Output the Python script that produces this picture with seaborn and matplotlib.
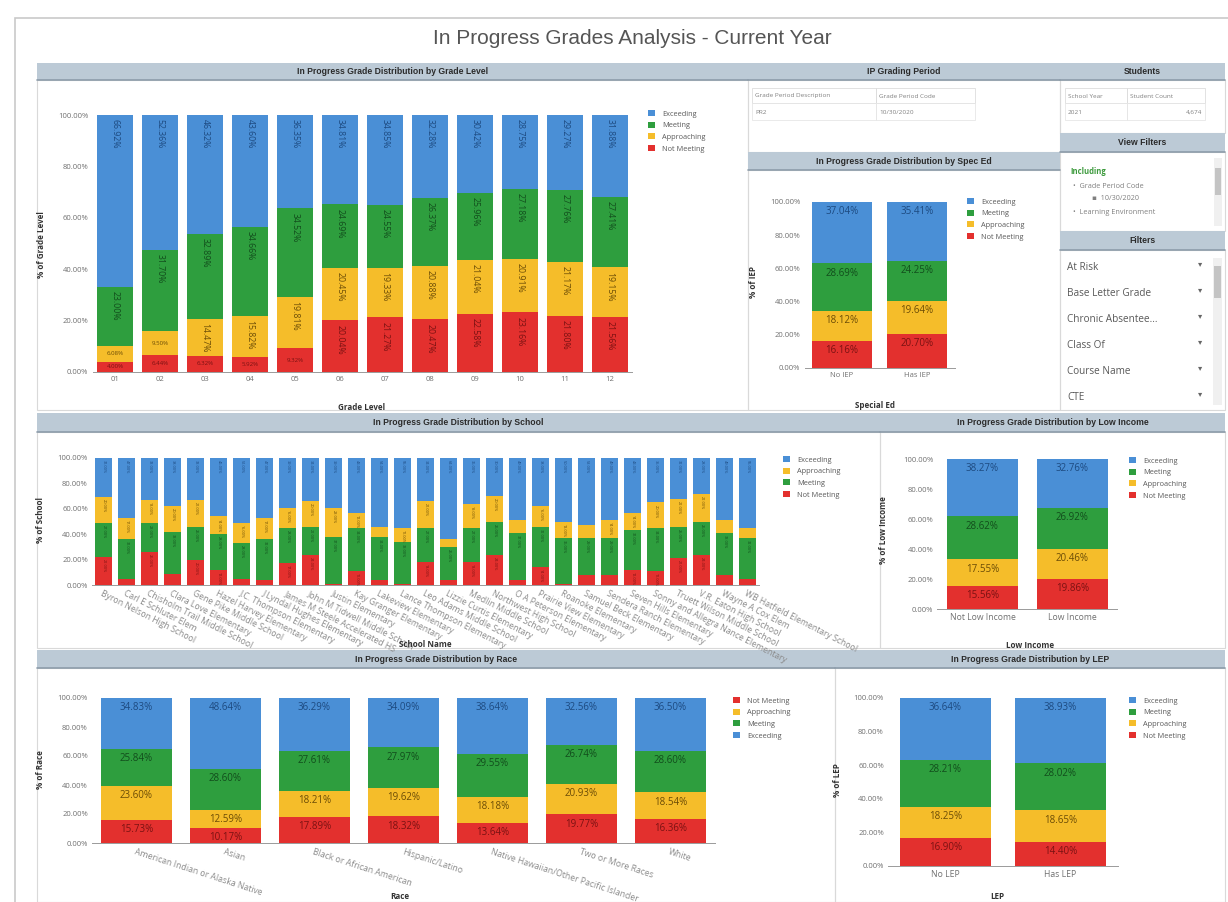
import matplotlib
matplotlib.use('Agg')
import matplotlib.pyplot as plt
from matplotlib.patches import Rectangle, Patch
from matplotlib.ticker import FuncFormatter
import seaborn as sns
import pandas as pd

W, H = 1228, 902

# ---- data -------------------------------------------------------------
LEVELS = ['Exceeding', 'Meeting', 'Approaching', 'Not Meeting']

grade_levels = ['01', '02', '03', '04', '05', '06', '07', '08', '09', '10', '11', '12']
grade_exceeding = [66.92, 52.36, 46.32, 43.60, 36.35, 34.81, 34.85, 32.28, 30.42, 28.75, 29.27, 31.88]
grade_meeting = [23.00, 31.70, 32.89, 34.66, 34.52, 24.69, 24.55, 26.37, 25.96, 27.18, 27.76, 27.41]
grade_approaching = [6.08, 9.50, 14.47, 15.82, 19.81, 20.45, 19.33, 20.88, 21.04, 20.91, 21.17, 19.15]
grade_not_meeting = [4.00, 6.44, 6.32, 5.92, 9.32, 20.04, 21.27, 20.47, 22.58, 23.16, 21.80, 21.56]

iep_groups = ['No IEP', 'Has IEP']
iep_exceeding = [37.04, 35.41]
iep_meeting = [28.69, 24.25]
iep_approaching = [18.12, 19.64]
iep_not_meeting = [16.16, 20.70]

schools = ['Byron Nelson High School', 'Carl E Schluter Elem', 'Chisholm Trail Middle School',
           'Clara Love Elementary', 'Gene Pike Middle School', 'Hazel Harvey Elementary',
           'J.C. Thompson Elementary', 'J Lyndal Hughes Elementary', 'James M Steele Accelerated HS',
           'John M Tidwell Middle School', 'Justin Elementary', 'Kay Granger Elementary',
           'Lakeview Elementary', 'Lance Thompson Elementary', 'Leo Adams Middle School',
           'Lizzie Curtis Elementary', 'Medlin Middle School', 'Northwest High School',
           'O A Peterson Elementary', 'Prairie View Elementary', 'Roanoke Elementary',
           'Samuel Beck Elementary', 'Sendera Ranch Elementary', 'Seven Hills Elementary',
           'Sonny and Allegra Nance Elementary', 'Truett Wilson Middle School',
           'V.R. Eaton High School', 'Wayne A Cox Elem', 'WB Hatfield Elementary School']
school_exceeding = [31, 47, 33, 38, 33, 46, 51, 47, 39, 34, 39, 43, 54, 55, 34,
                    64, 36, 30, 49, 38, 50, 53, 49, 43, 35, 32, 28, 49, 55]
school_approaching = [20, 17, 18, 20, 21, 14, 16, 17, 16, 20, 23, 12, 8, 11, 21,
                      6, 19, 20, 10, 16, 13, 10, 14, 14, 20, 22, 22, 10, 8]
school_meeting = [27, 31, 23, 33, 26, 28, 28, 32, 28, 22, 37, 34, 34, 33, 27,
                  26, 27, 26, 37, 32, 36, 29, 29, 31, 34, 25, 26, 33, 32]
school_not_meeting = [22, 5, 26, 9, 20, 12, 5, 4, 17, 24, 1, 11, 4, 1, 18,
                      4, 18, 24, 4, 14, 1, 8, 8, 12, 11, 21, 24, 8, 5]

income_groups = ['Not Low Income', 'Low Income']
income_exceeding = [38.27, 32.76]
income_meeting = [28.62, 26.92]
income_approaching = [17.55, 20.46]
income_not_meeting = [15.56, 19.86]

races = ['American Indian or Alaska Native', 'Asian', 'Black or African American',
         'Hispanic/Latino', 'Native Hawaiian/Other Pacific Islander', 'Two or More Races', 'White']
race_exceeding = [34.83, 48.64, 36.29, 34.09, 38.64, 32.56, 36.50]
race_meeting = [25.84, 28.60, 27.61, 27.97, 29.55, 26.74, 28.60]
race_approaching = [23.60, 12.59, 18.21, 19.62, 18.18, 20.93, 18.54]
race_not_meeting = [15.73, 10.17, 17.89, 18.32, 13.64, 19.77, 16.36]

lep_groups = ['No LEP', 'Has LEP']
lep_exceeding = [36.64, 38.93]
lep_meeting = [28.21, 28.02]
lep_approaching = [18.25, 18.65]
lep_not_meeting = [16.90, 14.40]

COLORS = {'Exceeding': '#4a8fd6', 'Meeting': '#2e9e3e',
          'Approaching': '#f5bd2a', 'Not Meeting': '#e3302e'}
TEXT_COLORS = {'Exceeding': '#1d4a80', 'Meeting': '#124d1c',
               'Approaching': '#6b4c06', 'Not Meeting': '#7a1212'}

sns.set_theme(style='white')
plt.rcParams['font.family'] = ['Open Sans', 'DejaVu Sans']

fig = plt.figure(figsize=(W / 100, H / 100), dpi=100)
fig.patch.set_facecolor('white')


def fr(x0, y0, x1, y1):
    # pixel box -> figure fraction rect
    return [x0 / W, 1 - y1 / H, (x1 - x0) / W, (y1 - y0) / H]


def box(x0, y0, x1, y1, fc='none', ec='#d9d9d9', lw=0.8, z=0):
    fig.add_artist(Rectangle((x0 / W, 1 - y1 / H), (x1 - x0) / W, (y1 - y0) / H,
                             transform=fig.transFigure, facecolor=fc, edgecolor=ec,
                             linewidth=lw, zorder=z))


def header(x0, y0, x1, y1, text):
    box(x0, y0, x1, y1, fc='#bccad6', ec='none')
    fig.add_artist(plt.Line2D([x0 / W, x1 / W], [1 - y1 / H, 1 - y1 / H],
                              color='#8d9caa', lw=1.2, transform=fig.transFigure))
    fig.text((x0 + x1) / 2 / W, 1 - (y0 + y1) / 2 / H, text, ha='center', va='center',
             fontsize=6.2, fontweight='bold', color='#2b2b2b', family='Liberation Sans')


def stacked(ax, groups, series, stack, width, label='h', fs=6.5, min_label=0):
    rows = []
    for i, g in enumerate(groups):
        bottom = 0
        for lvl in stack:
            v = series[lvl][i]
            rows.append({'group': g, 'level': lvl, 'value': v, 'bottom': bottom, 'top': bottom + v})
            bottom += v
    df = pd.DataFrame(rows)
    # layered totals: draw the highest cumulative first, overdraw downward
    for lvl in reversed(stack):
        sub = df[df.level == lvl]
        sns.barplot(data=sub, x='group', y='top', order=groups, color=COLORS[lvl],
                    width=width, saturation=1, errorbar=None, linewidth=0, ax=ax)
    for _, r in df.iterrows():
        i = groups.index(r.group)
        if r.value < min_label:
            continue
        txt = f'{r.value:.2f}%'
        if label == 'v':
            if r.value < 10:
                ax.annotate(txt, (i, (r.bottom + r.top) / 2), ha='center', va='center',
                            fontsize=fs * 0.7, color=TEXT_COLORS[r.level])
            else:
                ax.annotate(txt, (i, r.top), xytext=(0, -3), textcoords='offset points',
                            ha='center', va='top', rotation=270, fontsize=fs,
                            color=TEXT_COLORS[r.level])
        elif label == 'vs':
            ax.annotate(txt, (i, r.top), xytext=(0, -1.5), textcoords='offset points',
                        ha='center', va='top', rotation=270, fontsize=fs,
                        color=TEXT_COLORS[r.level])
        else:
            ax.annotate(txt, (i, r.top), xytext=(0, -3), textcoords='offset points',
                        ha='center', va='top', fontsize=fs, color=TEXT_COLORS[r.level])
    ax.set_xlim(-0.5, len(groups) - 0.5)
    ax.set_ylim(0, 100)
    ax.set_yticks([0, 20, 40, 60, 80, 100])
    ax.yaxis.set_major_formatter(FuncFormatter(lambda v, p: f'{v:.2f}%'))
    for s in ['top', 'right', 'left']:
        ax.spines[s].set_visible(False)
    ax.spines['bottom'].set_color('#9a9a9a')
    ax.spines['bottom'].set_linewidth(0.7)
    ax.tick_params(axis='both', length=0, labelsize=5.5, labelcolor='#707070', pad=3)
    ax.set_facecolor('none')


def legend(ax, order, x, y):
    handles = [Patch(facecolor=COLORS[l], edgecolor='none') for l in order]
    leg = ax.legend(handles, order, loc='upper left', bbox_to_anchor=(x / W, 1 - y / H),
                    bbox_transform=fig.transFigure, frameon=False, fontsize=5.3,
                    handlelength=0.9, handleheight=0.9, handletextpad=1.0,
                    labelspacing=0.55, borderaxespad=0, borderpad=0)
    for t in leg.get_texts():
        t.set_color('#5a5a5a')


def labels(ax, xl, yl, xpos, ypos):
    ax.set_xlabel(xl, fontsize=5.8, fontweight='bold', color='#333333')
    ax.set_ylabel(yl, fontsize=5.8, fontweight='bold', color='#333333')
    ax.xaxis.set_label_coords(*xpos, transform=fig.transFigure)
    ax.yaxis.set_label_coords(*ypos, transform=fig.transFigure)


# ---- frame and title --------------------------------------------------
box(15, 18, 1240, 910, ec='#c9c9c9', lw=1.2)
fig.text(632 / W, 1 - 38 / H, 'In Progress Grades Analysis - Current Year', ha='center',
         va='center', fontsize=15, color='#555555', family='Liberation Sans')

# panels
for b in [(37, 80, 748, 410), (748, 80, 1060, 152), (748, 170, 1060, 410),
          (1060, 80, 1225, 133), (1060, 152, 1225, 231), (1060, 250, 1225, 410),
          (37, 432, 880, 648), (880, 432, 1225, 648), (37, 668, 835, 902), (835, 668, 1225, 902)]:
    box(*b)

header(37, 63, 748, 80, 'In Progress Grade Distribution by Grade Level')
header(748, 63, 1060, 80, 'IP Grading Period')
header(1060, 63, 1225, 80, 'Students')
header(748, 152, 1060, 170, 'In Progress Grade Distribution by Spec Ed')
header(1060, 133, 1225, 152, 'View Filters')
header(1060, 231, 1225, 250, 'Filters')
header(37, 413, 880, 432, 'In Progress Grade Distribution by School')
header(880, 413, 1225, 432, 'In Progress Grade Distribution by Low Income')
header(37, 650, 835, 668, 'In Progress Grade Distribution by Race')
header(835, 650, 1225, 668, 'In Progress Grade Distribution by LEP')


# ---- grading period + students tables --------------------------------
def table(cols, heads, values, y0, right_last=False):
    for k, ((a, b), h, v) in enumerate(zip(cols, heads, values)):
        box(a, y0, b, y0 + 15, ec='#dddddd', lw=0.6)
        box(a, y0 + 15, b, y0 + 32, ec='#e6e6e6', lw=0.6)
        fig.text((a + 3) / W, 1 - (y0 + 8) / H, h, fontsize=4.6, color='#808080', va='center')
        if right_last and k == len(cols) - 1:
            fig.text((b - 3) / W, 1 - (y0 + 24) / H, v, fontsize=4.6, color='#808080',
                     va='center', ha='right')
        else:
            fig.text((a + 3) / W, 1 - (y0 + 24) / H, v, fontsize=4.6, color='#808080', va='center')


table([(752, 876), (876, 975)], ['Grade Period Description', 'Grade Period Code'],
      ['PR2', '10/30/2020'], 88)
table([(1065, 1127), (1127, 1205)], ['School Year', 'Student Count'], ['2021', '4,674'], 88,
      right_last=True)

# view filters
fig.text(1070 / W, 1 - 171 / H, 'Including', fontsize=5.5, color='#3c9a3c', fontweight='bold', va='center')
fig.text(1073 / W, 1 - 187 / H, '•  Grade Period Code', fontsize=5.2, color='#808080', va='center')
fig.text(1092 / W, 1 - 199 / H, '▪  10/30/2020', fontsize=5.2, color='#808080', va='center')
fig.text(1073 / W, 1 - 213 / H, '•  Learning Environment', fontsize=5.2, color='#808080', va='center')
box(1214, 158, 1222, 226, fc='#f0f0f0', ec='none')
box(1215, 168, 1221, 195, fc='#c4c4c4', ec='none')

# filters list
filters = ['At Risk', 'Base Letter Grade', 'Chronic Absentee...', 'Class Of', 'Course Name', 'CTE']
for k, f in enumerate(filters):
    y = 268 + k * 26
    fig.text(1067 / W, 1 - y / H, f, fontsize=7.2, color='#595959', va='center')
    fig.text(1200 / W, 1 - (y - 3) / H, '▾', fontsize=6, color='#666666', va='center', ha='center')
box(1213, 258, 1222, 405, fc='#f0f0f0', ec='none')
box(1214, 266, 1221, 298, fc='#c4c4c4', ec='none')

# ---- grade level chart -------------------------------------------------
ax1 = fig.add_axes(fr(92.5, 115, 632.5, 372))
stacked(ax1, grade_levels, {'Exceeding': grade_exceeding, 'Meeting': grade_meeting,
                            'Approaching': grade_approaching, 'Not Meeting': grade_not_meeting},
        ['Not Meeting', 'Approaching', 'Meeting', 'Exceeding'], 0.8, label='v', fs=6.3)
labels(ax1, 'Grade Level', '% of Grade Level', (362 / W, 1 - 403 / H), (46 / W, 1 - 245 / H))
legend(ax1, ['Exceeding', 'Meeting', 'Approaching', 'Not Meeting'], 648, 110)

# ---- spec ed chart -----------------------------------------------------
ax2 = fig.add_axes(fr(804.5, 202, 954.5, 368))
stacked(ax2, iep_groups, {'Exceeding': iep_exceeding, 'Meeting': iep_meeting,
                          'Approaching': iep_approaching, 'Not Meeting': iep_not_meeting},
        ['Not Meeting', 'Approaching', 'Meeting', 'Exceeding'], 0.8, label='h', fs=7)
labels(ax2, 'Special Ed', '% of IEP', (875 / W, 1 - 401 / H), (758 / W, 1 - 282 / H))
legend(ax2, ['Exceeding', 'Meeting', 'Approaching', 'Not Meeting'], 967, 198)

# ---- school chart ------------------------------------------------------
ax3 = fig.add_axes(fr(92, 458, 759, 585))
stacked(ax3, schools, {'Exceeding': school_exceeding, 'Meeting': school_meeting,
                       'Approaching': school_approaching, 'Not Meeting': school_not_meeting},
        ['Not Meeting', 'Meeting', 'Approaching', 'Exceeding'], 0.75, label='vs', fs=2.8, min_label=11)
ax3.set_xticks(range(len(schools)))
ax3.set_xticklabels(schools, rotation=-27, ha='left', rotation_mode='anchor', fontsize=6.2, color='#8a8a8a')
labels(ax3, 'School Name', '% of School', (425 / W, 1 - 640 / H), (45 / W, 1 - 520 / H))
legend(ax3, ['Exceeding', 'Approaching', 'Meeting', 'Not Meeting'], 783, 456)

# ---- low income chart --------------------------------------------------
ax4 = fig.add_axes(fr(937.5, 459, 1117.5, 609))
stacked(ax4, income_groups, {'Exceeding': income_exceeding, 'Meeting': income_meeting,
                             'Approaching': income_approaching, 'Not Meeting': income_not_meeting},
        ['Not Meeting', 'Approaching', 'Meeting', 'Exceeding'], 0.79, label='h', fs=7)
ax4.tick_params(axis='x', labelsize=6.2)
labels(ax4, 'Low Income', '% of Low Income', (1030 / W, 1 - 641 / H), (888 / W, 1 - 530 / H))
legend(ax4, ['Exceeding', 'Meeting', 'Approaching', 'Not Meeting'], 1129, 457)

# ---- race chart --------------------------------------------------------
ax5 = fig.add_axes(fr(92, 698, 715, 843))
stacked(ax5, races, {'Exceeding': race_exceeding, 'Meeting': race_meeting,
                     'Approaching': race_approaching, 'Not Meeting': race_not_meeting},
        ['Not Meeting', 'Approaching', 'Meeting', 'Exceeding'], 0.8, label='h', fs=7)
ax5.set_xticks(range(len(races)))
ax5.set_xticklabels(races, rotation=-18, ha='left', rotation_mode='anchor', fontsize=6.2, color='#8a8a8a')
labels(ax5, 'Race', '% of Race', (400 / W, 1 - 892 / H), (45 / W, 1 - 770 / H))
legend(ax5, ['Not Meeting', 'Approaching', 'Meeting', 'Exceeding'], 733, 697)

# ---- LEP chart ---------------------------------------------------------
ax6 = fig.add_axes(fr(888, 698, 1118, 866))
stacked(ax6, lep_groups, {'Exceeding': lep_exceeding, 'Meeting': lep_meeting,
                          'Approaching': lep_approaching, 'Not Meeting': lep_not_meeting},
        ['Not Meeting', 'Approaching', 'Meeting', 'Exceeding'], 0.79, label='h', fs=7)
ax6.tick_params(axis='x', labelsize=6.2)
labels(ax6, 'LEP', '% of LEP', (997 / W, 1 - 892 / H), (842 / W, 1 - 780 / H))
legend(ax6, ['Exceeding', 'Meeting', 'Approaching', 'Not Meeting'], 1129, 697)

plt.savefig('out.png', dpi=100, facecolor='white')
